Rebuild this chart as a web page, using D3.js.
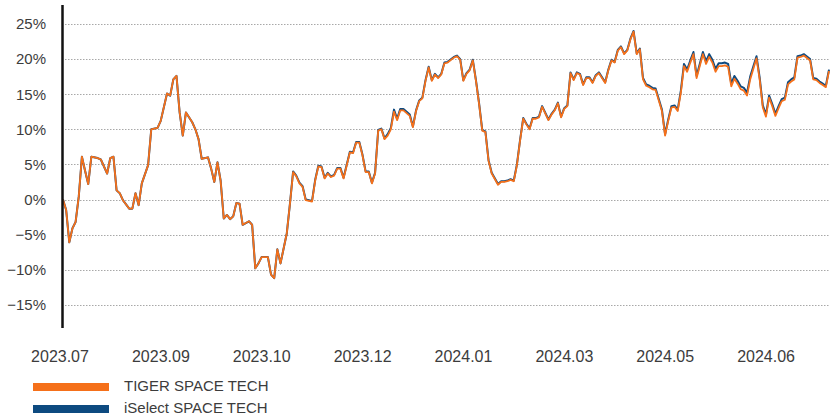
<!DOCTYPE html>
<html>
<head>
<meta charset="utf-8">
<script src="https://cdn.jsdelivr.net/npm/d3@7"></script>
<style>
  body { margin: 0; background: #fff; }
  text { font-family: "Liberation Sans", Arial, sans-serif; }
</style>
</head>
<body>
<div id="chart"></div>
<script>
// trading day index (from 2023.07 start) and cumulative return in %
const days = [0,1,2,3,4,5,6,7,8,9,11,12,14,15,16,17,18,19,21,22,23,24,25,27,28,30,31,33,34,35,36,37,38,39,41,42,43,44,46,47,48,49,50,51,52,53,54,55,56,57,59,60,61,62,63,65,66,67,68,69,71,72,73,74,75,76,77,79,80,81,82,83,84,85,86,87,88,89,91,92,93,94,95,96,97,98,99,100,101,102,103,104,105,106,107,108,110,111,112,113,114,115,116,117,118,119,120,121,122,124,125,126,127,128,129,130,131,132,133,134,135,136,138,139,140,141,142,143,144,145,146,147,148,149,150,151,152,154,155,156,157,158,159,160,161,162,163,164,165,166,167,168,169,170,172,173,174,175,176,177,178,179,180,181,182,183,184,185,186,187,188,190,191,192,193,194,195,196,197,198,199,200,201,203,204,205,206,207,208,209,210,211,212,213,214,215,216,217,218,220,221,222,223,224,225,226,227,228,229,230,231,232,233,234,235,237,238,239,240,241,242,243];

const tiger = [0.0,-1.5,-6.1,-4.1,-3.2,0.4,6.1,4.1,2.2,6.1,5.9,5.7,3.7,5.9,6.1,1.3,0.9,-0.1,-1.3,-1.3,0.9,-0.8,2.3,4.9,10.0,10.2,11.2,15.1,14.8,17.1,17.6,12.4,9.1,12.4,11.0,10.0,8.6,5.8,6.0,4.4,2.5,5.3,2.7,-2.7,-2.2,-2.8,-2.4,-0.5,-0.6,-3.6,-3.1,-3.6,-9.8,-9.1,-8.2,-8.2,-10.7,-11.2,-7.1,-9.1,-4.8,-0.6,3.9,3.3,2.3,1.8,-0.1,-0.3,2.7,4.7,4.6,3.0,3.7,3.2,3.4,4.4,4.4,3.0,6.7,6.6,8.1,8.1,6.3,3.9,3.9,2.3,3.7,9.8,10.0,8.6,9.1,10.0,12.5,11.3,12.7,12.7,11.9,10.3,12.6,14.0,14.4,16.9,18.8,16.9,17.8,17.3,17.8,19.4,19.5,20.2,20.4,19.9,16.9,17.9,18.4,19.8,16.9,13.6,9.8,9.6,5.5,3.7,2.1,2.5,2.5,2.6,2.8,2.6,4.9,8.4,11.5,10.7,10.0,11.5,11.5,11.7,13.2,11.3,12.1,12.7,13.7,11.7,12.9,13.3,18.0,17.0,18.0,17.8,16.3,17.3,17.3,16.6,17.6,18.0,16.6,18.4,19.8,19.5,21.2,21.7,20.7,21.2,22.8,23.9,20.7,21.4,17.1,16.2,16.0,15.7,15.6,12.6,9.1,11.2,13.1,13.2,12.6,15.2,19.0,18.2,19.5,20.7,17.3,20.7,19.3,20.3,19.5,18.2,19.0,19.0,19.1,18.9,16.1,17.2,16.5,15.7,15.5,14.8,17.1,20.1,17.1,13.1,11.8,14.5,13.3,11.9,13.0,14.0,14.2,16.4,16.8,17.1,20.2,20.3,20.5,19.8,17.1,17.0,16.6,16.3,16.0,18.3];

const iselect = [0.0,-1.5,-6.1,-4.1,-3.2,0.4,6.1,4.1,2.2,6.1,5.9,5.7,3.7,5.9,6.1,1.3,0.9,-0.1,-1.3,-1.3,0.9,-0.8,2.3,4.9,10.0,10.2,11.2,15.1,14.8,17.1,17.6,12.4,9.1,12.4,11.0,10.0,8.6,5.8,6.0,4.4,2.5,5.3,2.7,-2.7,-2.2,-2.8,-2.4,-0.5,-0.6,-3.6,-3.1,-3.6,-9.8,-9.1,-8.2,-8.2,-10.7,-11.2,-7.1,-9.1,-4.8,-0.6,4.0,3.4,2.4,1.9,0.0,-0.2,2.8,4.8,4.7,3.1,3.8,3.3,3.5,4.5,4.5,3.1,6.8,6.7,8.2,8.2,6.4,4.0,4.0,2.4,3.8,9.9,10.1,8.7,9.3,10.2,12.8,11.5,12.9,12.9,12.1,10.4,12.7,14.1,14.5,17.0,18.9,17.0,17.9,17.4,17.9,19.5,19.6,20.3,20.5,20.0,17.0,18.0,18.5,19.9,17.0,13.7,9.9,9.7,5.6,3.8,2.2,2.6,2.6,2.7,2.9,2.7,5.0,8.5,11.6,10.8,10.1,11.6,11.6,11.8,13.3,11.4,12.2,12.8,13.8,11.8,13.0,13.4,18.1,17.1,18.1,17.9,16.4,17.4,17.4,16.7,17.7,18.1,16.7,18.5,19.9,19.6,21.3,21.8,20.8,21.3,22.9,24.0,20.8,21.5,17.3,16.4,16.2,15.9,15.8,12.8,9.3,11.4,13.3,13.4,12.8,15.5,19.3,18.5,19.8,21.0,17.6,21.0,19.7,20.7,19.9,18.6,19.4,19.4,19.5,19.3,16.5,17.6,16.9,16.1,15.9,15.2,17.5,20.4,17.4,13.4,12.1,14.8,13.6,12.2,13.3,14.3,14.5,16.7,17.1,17.4,20.4,20.5,20.7,20.0,17.3,17.2,16.8,16.5,16.2,18.5];

const yTicks = [-15, -10, -5, 0, 5, 10, 15, 20, 25];
const xLabels = ["2023.07", "2023.09", "2023.10", "2023.12", "2024.01", "2024.03", "2024.05", "2024.06"];
const xLabelDays = [0, 32, 64, 96, 128, 160, 192, 224];
const seriesNames = ["TIGER SPACE TECH", "iSelect SPACE TECH"];
const seriesColors = ["#f5701a", "#0d4a80"];

const width = 840;
const height = 419;

const svg = d3.select("#chart")
    .append("svg")
    .attr("width", width)
    .attr("height", height);

const x = d3.scaleLinear()
    .domain([0, 243])
    .range([63, 829]);

const y = d3.scaleLinear()
    .domain([-18.3, 27.7])
    .range([328, 5]);

// gridlines
svg.append("g")
    .selectAll("line")
    .data(yTicks)
    .enter()
    .append("line")
    .attr("x1", 65)
    .attr("x2", 830)
    .attr("y1", d => Math.round(y(d)) + 0.5)
    .attr("y2", d => Math.round(y(d)) + 0.5)
    .attr("stroke", "#a8a8a8")
    .attr("stroke-width", 1)
    .attr("stroke-dasharray", "1.5,1.5");

// y labels
svg.append("g")
    .selectAll("text")
    .data(yTicks)
    .enter()
    .append("text")
    .attr("x", 46)
    .attr("y", d => y(d))
    .attr("dy", "0.36em")
    .attr("text-anchor", "end")
    .style("font-size", "15px")
    .style("fill", "#3c3c3c")
    .text(d => (d < 0 ? "\u2212" + Math.abs(d) : d) + "%");

// x labels
svg.append("g")
    .selectAll("text")
    .data(xLabels)
    .enter()
    .append("text")
    .attr("x", (d, i) => x(xLabelDays[i]) - 3)
    .attr("y", 362)
    .attr("text-anchor", "middle")
    .style("font-size", "16px")
    .style("fill", "#3c3c3c")
    .text(d => d);

// lines
const line = d3.line()
    .x((d, i) => x(days[i]))
    .y(d => y(d));

svg.append("path")
    .datum(iselect)
    .attr("fill", "none")
    .attr("stroke", seriesColors[1])
    .attr("stroke-width", 2)
    .attr("stroke-linejoin", "round")
    .attr("d", line);

svg.append("path")
    .datum(tiger)
    .attr("fill", "none")
    .attr("stroke", seriesColors[0])
    .attr("stroke-width", 1.8)
    .attr("stroke-linejoin", "round")
    .attr("d", line);

// left axis line
svg.append("line")
    .attr("x1", 62.5)
    .attr("x2", 62.5)
    .attr("y1", 5)
    .attr("y2", 328)
    .attr("stroke", "#111")
    .attr("stroke-width", 2.5);

// legend
const legend = svg.append("g")
    .selectAll("g")
    .data(seriesNames)
    .enter()
    .append("g")
    .attr("transform", (d, i) => `translate(33, ${383 + i * 22})`);

legend.append("rect")
    .attr("width", 76)
    .attr("height", 8)
    .attr("fill", (d, i) => seriesColors[i]);

legend.append("text")
    .attr("x", 91)
    .attr("y", 8)
    .style("font-size", "15px")
    .style("fill", "#3c3c3c")
    .text(d => d);
</script>
</body>
</html>
